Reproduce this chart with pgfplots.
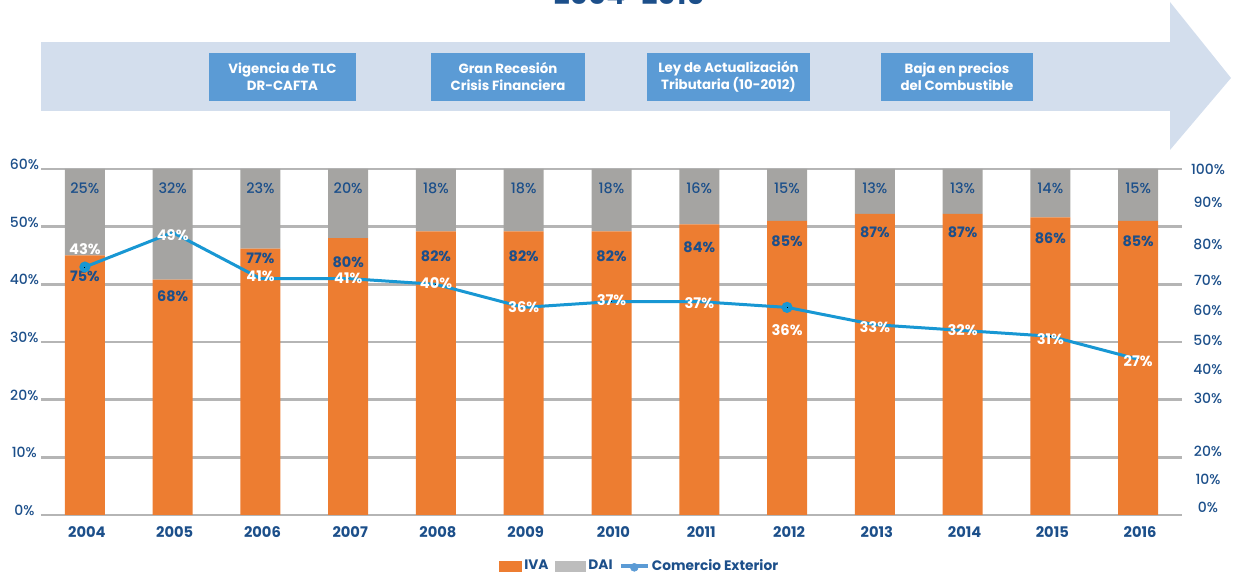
\documentclass[border=0pt]{standalone}
\usepackage{fontspec}
\setmainfont{Poppins}
\newfontfamily\pmed{Poppins Medium}
\usepackage{pgfplots}
\usepackage{pgfplotstable}
\pgfplotsset{compat=1.18}

\definecolor{iva}{HTML}{ED7D31}
\definecolor{dai}{HTML}{A5A4A2}
\definecolor{gridc}{HTML}{B5B5B5}
\definecolor{navy}{HTML}{1C4F8A}
\definecolor{linec}{HTML}{1897D3}
\definecolor{band}{HTML}{D3DEED}
\definecolor{boxc}{HTML}{5B9BD5}
\definecolor{legline}{HTML}{5B9BD5}
\definecolor{leggray}{HTML}{BDBDBD}

% shares of IVA and DAI (sum 100), label offset below segment top in px
\pgfplotstableread{
x iva dai ivaoff
0 75 25 21
1 68 32 17
2 77 23 10
3 80 20 24
4 82 18 25
5 82 18 25
6 82 18 25
7 84 16 23
8 85 15 20
9 87 13 18
10 87 13 18
11 86 14 21
12 85 15 20
}\bars

% comercio exterior, label shift in px
\pgfplotstableread{
x ce dy
0 43 18
1 49 -3
2 41 2
3 41 0
4 40 1
5 36 0
6 37 2
7 37 -1
8 36 -23
9 33 -2
10 32 0
11 31 -3
12 27 -2
}\comex

\begin{document}
\begin{tikzpicture}[x=0.75pt,y=0.75pt]
\useasboundingbox (0,0) rectangle (1233,573);

% title (cut at top)
\node[anchor=base, text=navy, font=\bfseries\fontsize{21}{24}\selectfont, inner sep=0pt] at (629,568) {2004-2016};

% timeline arrow
\fill[band] (41,531) rectangle (1170,462);
\fill[band] (1170,571) -- (1231,495) -- (1170,423) -- cycle;
\tikzset{evt/.style={fill=boxc, text=white, align=center, minimum height=36pt, inner sep=0pt,
  font=\bfseries\fontsize{10}{12.75}\selectfont}}
\node[evt, minimum width=110.25pt] at (282.5,496) {Vigencia de TLC\\DR-CAFTA};
\node[evt, minimum width=115.5pt] at (508,496) {Gran Recesión\\Crisis Financiera};
\node[evt, minimum width=122.25pt] at (728.5,496) {Ley de Actualización\\Tributaria (10-2012)};
\node[evt, minimum width=114pt] at (957,496) {Baja en precios\\del Combustible};

\begin{axis}[
    at={(30.75pt,43.5pt)}, anchor=south west,
    width=855.75pt, height=259.5pt, scale only axis,
    xmin=-0.5, xmax=12.5, ymin=0, ymax=60,
    ybar stacked, bar width=30pt,
    clip=false,
    axis line style={draw=none},
    major tick length=0,
    ymajorgrids,
    grid style={line width=2pt, gridc},
    ytick={0,10,20,30,40,50,60},
    yticklabels={0\%,10\%,20\%,30\%,40\%,50\%,60\%},
    yticklabel style={anchor=center, xshift=-12.5pt, yshift=3.5pt, text=navy,
      font=\pmed\fontsize{10.5}{12}\selectfont},
    xtick={0,...,12},
    xticklabels={2004,2005,2006,2007,2008,2009,2010,2011,2012,2013,2014,2015,2016},
    xticklabel style={anchor=center, yshift=-12.5pt, xshift=1.5pt, text=navy,
      font=\bfseries\fontsize{11}{13}\selectfont},
]
% labels sit at the middle of each stacked segment, so shift from there
\addplot[fill=iva, draw=none,
    nodes near coords={\pgfplotspointmeta\%},
    point meta=explicit symbolic,
    visualization depends on={0.5*\thisrow{iva}*0.6*5.7667-\thisrow{ivaoff} \as \off},
    every node near coord/.append style={anchor=center, yshift=0.75pt*\off,
      text=navy, font=\bfseries\fontsize{10.8}{12}\selectfont}]
  table[x=x, y expr=\thisrow{iva}*0.6, meta=iva] {\bars};
\addplot[fill=dai, draw=none,
    nodes near coords={\pgfplotspointmeta\%},
    point meta=explicit symbolic,
    visualization depends on={0.5*\thisrow{dai}*0.6*5.7667-19 \as \off},
    every node near coord/.append style={anchor=center, yshift=0.75pt*\off,
      text=navy, font=\pmed\fontsize{10.8}{12}\selectfont}]
  table[x=x, y expr=\thisrow{dai}*0.6, meta=dai] {\bars};
\end{axis}

\begin{axis}[
    at={(30.75pt,43.5pt)}, anchor=south west,
    width=855.75pt, height=259.5pt, scale only axis,
    xmin=-0.5, xmax=12.5, ymin=0, ymax=60,
    clip=false,
    axis line style={draw=none},
    major tick length=0,
    xtick=\empty,
    yticklabel pos=right,
    ytick={1.4,6.2,11.1,20.3,25.3,30.2,35.5,40.7,47.0,54.2,60},
    yticklabels={0\%,10\%,20\%,30\%,40\%,50\%,60\%,70\%,80\%,90\%,100\%},
    yticklabel style={anchor=center, xshift=19.5pt, text=navy,
      font=\pmed\fontsize{10.5}{12}\selectfont},
    legend style={at={(0.525,-0.1474)}, anchor=center, draw=none, fill=none,
      legend columns=3, text=navy, font=\bfseries\fontsize{10.3}{12}\selectfont,
      /tikz/every even column/.append style={column sep=3pt}},
]
\addplot[forget plot, linec, line width=2.25pt, mark=*, mark size=3pt,
    mark options={fill=linec, draw=linec},
    mark indices={1,9}]
  table[x=x, y=ce] {\comex};
\addplot[forget plot, draw=none, mark=*, mark size=0pt,
    mark options={draw=none, fill=none, line width=0pt},
    nodes near coords={\pgfplotspointmeta\%},
    point meta=explicit symbolic,
    visualization depends on={\thisrow{dy} \as \dy},
    every node near coord/.append style={anchor=center, yshift=0.75pt*\dy,
      text=white, font=\bfseries\fontsize{11}{12}\selectfont}]
  table[x=x, y=ce, meta=ce] {\comex};
\addlegendimage{legend image code/.code={\fill[iva] (0pt,-3.75pt) rectangle (16.5pt,3.75pt);}}
\addlegendentry{IVA}
\addlegendimage{legend image code/.code={\fill[leggray] (0pt,-3.75pt) rectangle (22.5pt,3.75pt);}}
\addlegendentry{DAI}
\addlegendimage{legend image code/.code={\draw[legline, line width=2.5pt] (0pt,0pt) -- (20pt,0pt);
  \fill[legline] (10pt,-1pt) circle (3pt);}}
\addlegendentry{Comercio Exterior}
\end{axis}
\end{tikzpicture}
\end{document}
